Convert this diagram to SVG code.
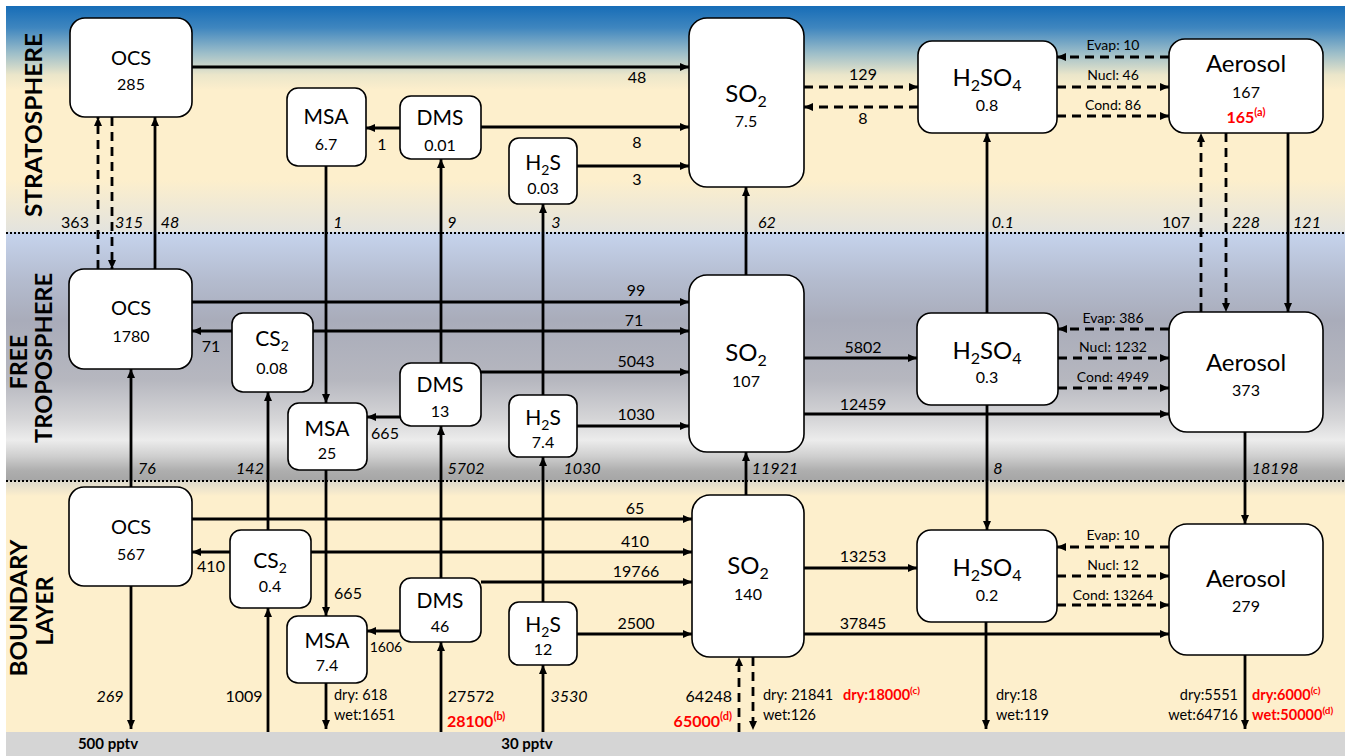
<svg xmlns="http://www.w3.org/2000/svg" width="1349" height="756" viewBox="0 0 1349 756">
<style>
.n{fill:#fff;stroke:#000;stroke-width:1.6}
.c{stroke:#000;stroke-width:2.8;fill:none;marker-end:url(#a)}
.d{stroke-dasharray:9 6}
.dot{stroke:#000;stroke-width:2.2;stroke-dasharray:2 2}
text{font-family:Lato,"Open Sans","Liberation Sans",sans-serif;fill:#000}
.big{font-size:24px;text-anchor:middle}
.mid{font-size:21px;text-anchor:middle}
.ocs{font-size:20px;text-anchor:middle}
.num{font-size:16px;text-anchor:middle}
.lb{font-size:16px;text-anchor:middle}
.it{font-size:16px;text-anchor:middle;font-style:italic}
.sm{font-size:14px;text-anchor:middle}
.dw{font-size:14.5px}
.e{text-anchor:end}
.red{fill:#ff0000;font-weight:bold}
.lay{font-size:23px;font-weight:bold;text-anchor:middle}
.pp{font-size:15px;font-weight:bold;text-anchor:middle}
</style>
<defs>
<marker id="a" viewBox="0 0 9 8" refX="9" refY="4" markerWidth="9" markerHeight="8" markerUnits="userSpaceOnUse" orient="auto">
<path d="M0,0 L9,4 L0,8 z" fill="#000"/>
</marker>
<linearGradient id="bg" x1="0" y1="6" x2="0" y2="732" gradientUnits="userSpaceOnUse">
<stop offset="0" stop-color="#176db7"/>
<stop offset="0.03" stop-color="#3f86bf"/>
<stop offset="0.065" stop-color="#9dbec9"/>
<stop offset="0.095" stop-color="#ebe6ca"/>
<stop offset="0.116" stop-color="#fdefcc"/>
<stop offset="0.24" stop-color="#fdefcc"/>
<stop offset="0.311" stop-color="#e3e3de"/>
<stop offset="0.3115" stop-color="#c6d4ed"/>
<stop offset="0.377" stop-color="#b4bccf"/>
<stop offset="0.433" stop-color="#a9acba"/>
<stop offset="0.515" stop-color="#b6b7bf"/>
<stop offset="0.57" stop-color="#d6d6d8"/>
<stop offset="0.598" stop-color="#ececec"/>
<stop offset="0.62" stop-color="#cfcfcf"/>
<stop offset="0.64" stop-color="#aeaeae"/>
<stop offset="0.653" stop-color="#a6a6a6"/>
<stop offset="0.6545" stop-color="#ddd9cc"/>
<stop offset="0.675" stop-color="#fdefcc"/>
<stop offset="1" stop-color="#fdefcc"/>
</linearGradient>
</defs>
<rect x="0" y="0" width="1349" height="756" fill="#fff"/>
<rect x="6" y="6" width="1339" height="726" fill="url(#bg)"/>
<rect x="6" y="732" width="1339" height="24" fill="#d5d5d5"/>
<line class="dot" x1="6" y1="233" x2="1345" y2="233"/>
<line class="dot" x1="6" y1="481" x2="1345" y2="481"/>

<g id="layer-labels">
<text class="lay" transform="translate(42,125) rotate(-90)" textLength="184" lengthAdjust="spacingAndGlyphs">STRATOSPHERE</text>
<text class="lay" transform="translate(27,362) rotate(-90)">FREE</text>
<text class="lay" transform="translate(52,358) rotate(-90)" textLength="170" lengthAdjust="spacingAndGlyphs">TROPOSPHERE</text>
<text class="lay" transform="translate(27,608) rotate(-90)" textLength="137" lengthAdjust="spacingAndGlyphs">BOUNDARY</text>
<text class="lay" transform="translate(53,611) rotate(-90)">LAYER</text>
</g>

<g id="connectors">
<!-- stratosphere horizontals -->
<line class="c" x1="192" y1="67" x2="689" y2="67"/>
<line class="c" x1="481" y1="127" x2="689" y2="127"/>
<line class="c" x1="577" y1="166" x2="689" y2="166"/>
<line class="c" x1="400" y1="128" x2="366" y2="128"/>
<line class="c d" x1="804" y1="87" x2="918" y2="87"/>
<line class="c d" x1="918" y1="107" x2="804" y2="107"/>
<line class="c d" x1="1169" y1="57" x2="1057" y2="57"/>
<line class="c d" x1="1057" y1="87" x2="1169" y2="87"/>
<line class="c d" x1="1057" y1="116" x2="1169" y2="116"/>
<!-- strat / FT verticals -->
<line class="c d" x1="98" y1="269" x2="98" y2="117"/>
<line class="c d" x1="112" y1="117" x2="112" y2="269"/>
<line class="c" x1="155" y1="269" x2="155" y2="117"/>
<line class="c" x1="326" y1="166" x2="326" y2="403"/>
<line class="c" x1="441" y1="363" x2="441" y2="159"/>
<line class="c" x1="543" y1="395" x2="543" y2="204"/>
<line class="c" x1="746" y1="275" x2="746" y2="187"/>
<line class="c" x1="987" y1="313" x2="987" y2="133"/>
<line class="c d" x1="1201" y1="312" x2="1201" y2="133"/>
<line class="c d" x1="1226" y1="133" x2="1226" y2="312"/>
<line class="c" x1="1288" y1="133" x2="1288" y2="312"/>
<!-- FT horizontals -->
<line class="c" x1="192" y1="302" x2="689" y2="302"/>
<line class="c" x1="313" y1="331" x2="689" y2="331"/>
<line class="c" x1="232" y1="331" x2="192" y2="331"/>
<line class="c" x1="481" y1="372" x2="689" y2="372"/>
<line class="c" x1="577" y1="426" x2="689" y2="426"/>
<line class="c" x1="400" y1="417" x2="367" y2="417"/>
<line class="c" x1="804" y1="358" x2="917" y2="358"/>
<line class="c" x1="804" y1="414" x2="1169" y2="414"/>
<line class="c d" x1="1169" y1="329" x2="1058" y2="329"/>
<line class="c d" x1="1058" y1="358" x2="1169" y2="358"/>
<line class="c d" x1="1058" y1="388" x2="1169" y2="388"/>
<!-- FT / BL verticals -->
<line class="c" x1="131" y1="487" x2="131" y2="369"/>
<line class="c" x1="268" y1="530" x2="268" y2="392"/>
<line class="c" x1="326" y1="470" x2="326" y2="616"/>
<line class="c" x1="441" y1="578" x2="441" y2="426"/>
<line class="c" x1="543" y1="602" x2="543" y2="457"/>
<line class="c" x1="746" y1="495" x2="746" y2="452"/>
<line class="c" x1="987" y1="405" x2="987" y2="530"/>
<line class="c" x1="1245" y1="432" x2="1245" y2="524"/>
<!-- BL horizontals -->
<line class="c" x1="192" y1="519" x2="692" y2="519"/>
<line class="c" x1="311" y1="552" x2="692" y2="552"/>
<line class="c" x1="230" y1="552" x2="192" y2="552"/>
<line class="c" x1="481" y1="582" x2="692" y2="582"/>
<line class="c" x1="577" y1="634" x2="692" y2="634"/>
<line class="c" x1="400" y1="631" x2="367" y2="631"/>
<line class="c" x1="804" y1="568" x2="917" y2="568"/>
<line class="c" x1="804" y1="634" x2="1169" y2="634"/>
<line class="c d" x1="1169" y1="547" x2="1057" y2="547"/>
<line class="c d" x1="1057" y1="576" x2="1169" y2="576"/>
<line class="c d" x1="1057" y1="605" x2="1169" y2="605"/>
<!-- surface fluxes -->
<line class="c" x1="131" y1="586" x2="131" y2="729"/>
<line class="c" x1="268" y1="732" x2="268" y2="608"/>
<line class="c" x1="326" y1="683" x2="326" y2="729"/>
<line class="c" x1="441" y1="732" x2="441" y2="642"/>
<line class="c" x1="543" y1="732" x2="543" y2="665"/>
<line class="c d" x1="739" y1="732" x2="739" y2="657"/>
<line class="c d" x1="753" y1="657" x2="753" y2="730"/>
<line class="c" x1="986" y1="622" x2="986" y2="729"/>
<line class="c" x1="1245" y1="655" x2="1245" y2="729"/>

<!-- labels stratosphere -->
<text class="lb" x="637" y="83">48</text>
<text class="lb" x="637" y="148">8</text>
<text class="lb" x="637" y="185">3</text>
<text class="lb" x="382" y="150">1</text>
<text class="lb" x="863" y="80">129</text>
<text class="lb" x="863" y="124">8</text>
<text class="sm" x="1113" y="50">Evap: 10</text>
<text class="sm" x="1113" y="80">Nucl: 46</text>
<text class="sm" x="1113" y="110">Cond: 86</text>
<!-- strat/FT -->
<text class="lb" x="75" y="228">363</text>
<text class="it" x="129" y="228">315</text>
<text class="it" x="170" y="228">48</text>
<text class="it" x="338" y="228">1</text>
<text class="it" x="452" y="228">9</text>
<text class="it" x="556" y="228">3</text>
<text class="it" x="767" y="228">62</text>
<text class="it" x="1003" y="228">0.1</text>
<text class="lb" x="1176" y="228">107</text>
<text class="it" x="1246" y="228">228</text>
<text class="it" x="1307" y="228">121</text>
<!-- FT -->
<text class="lb" x="636" y="296">99</text>
<text class="lb" x="634" y="326">71</text>
<text class="lb" x="211" y="352">71</text>
<text class="lb" x="636" y="367">5043</text>
<text class="lb" x="636" y="420">1030</text>
<text class="lb" x="385" y="439">665</text>
<text class="lb" x="863" y="353">5802</text>
<text class="lb" x="863" y="410">12459</text>
<text class="sm" x="1113" y="323">Evap: 386</text>
<text class="sm" x="1113" y="352">Nucl: 1232</text>
<text class="sm" x="1113" y="382">Cond: 4949</text>
<!-- FT/BL -->
<text class="it" x="147" y="474">76</text>
<text class="it" x="250" y="474">142</text>
<text class="it" x="466" y="474">5702</text>
<text class="it" x="582" y="474">1030</text>
<text class="it" x="775" y="474">11921</text>
<text class="it" x="998" y="474">8</text>
<text class="it" x="1275" y="474">18198</text>
<!-- BL -->
<text class="lb" x="635" y="514">65</text>
<text class="lb" x="635" y="547">410</text>
<text class="lb" x="211" y="572">410</text>
<text class="lb" x="636" y="577">19766</text>
<text class="lb" x="636" y="629">2500</text>
<text class="sm" x="386" y="652">1606</text>
<text class="lb" x="348" y="599">665</text>
<text class="lb" x="863" y="562">13253</text>
<text class="lb" x="863" y="629">37845</text>
<text class="sm" x="1113" y="540">Evap: 10</text>
<text class="sm" x="1113" y="570">Nucl: 12</text>
<text class="sm" x="1113" y="600">Cond: 13264</text>
<!-- surface -->
<text class="it" x="110" y="702">269</text>
<text class="lb" x="244" y="702">1009</text>
<text class="dw" x="334" y="700">dry: 618</text>
<text class="dw" x="334" y="720">wet:1651</text>
<text class="lb" x="471" y="702">27572</text>
<text class="red" font-size="16" x="447" y="727">28100<tspan font-size="11" dy="-7">(b)</tspan></text>
<text class="it" x="569" y="702">3530</text>
<text class="lb e" x="732" y="702" style="text-anchor:end">64248</text>
<text class="red" font-size="16" x="732" y="727" style="text-anchor:end">65000<tspan font-size="11" dy="-7">(d)</tspan></text>
<text class="dw" x="763" y="700">dry: 21841</text>
<text class="dw" x="763" y="720">wet:126</text>
<text class="dw red" x="843" y="700">dry:18000<tspan font-size="10" dy="-6">(c)</tspan></text>
<text class="dw" x="996" y="700">dry:18</text>
<text class="dw" x="996" y="720">wet:119</text>
<text class="dw e" x="1238" y="700">dry:5551</text>
<text class="dw e" x="1238" y="720">wet:64716</text>
<text class="dw red" x="1252" y="700">dry:6000<tspan font-size="10" dy="-6">(c)</tspan></text>
<text class="dw red" x="1252" y="720">wet:50000<tspan font-size="10" dy="-6">(d)</tspan></text>
<text class="pp" x="108" y="749">500 pptv</text>
<text class="pp" x="527" y="749">30 pptv</text>
</g>

<!-- Stratosphere nodes -->
<g id="ocs-strat"><rect class="n" x="70" y="18" width="122" height="99" rx="15"/><text class="ocs" x="131" y="65">OCS</text><text class="num" x="131" y="90">285</text></g>
<g id="msa-strat"><rect class="n" x="287" y="88" width="79" height="78" rx="11"/><text class="mid" x="326" y="124">MSA</text><text class="num" x="326" y="150">6.7</text></g>
<g id="dms-strat"><rect class="n" x="400" y="96" width="81" height="63" rx="11"/><text class="mid" x="440" y="125">DMS</text><text class="num" x="440" y="151">0.01</text></g>
<g id="h2s-strat"><rect class="n" x="509" y="138" width="68" height="66" rx="10"/><text class="mid" x="543" y="170">H<tspan font-size="14" dy="5">2</tspan><tspan dy="-5">S</tspan></text><text class="num" x="543" y="194">0.03</text></g>
<g id="so2-strat"><rect class="n" x="689" y="18" width="115" height="169" rx="18"/><text class="big" x="746" y="102">SO<tspan font-size="16" dy="5">2</tspan></text><text class="num" x="746" y="127">7.5</text></g>
<g id="h2so4-strat"><rect class="n" x="918" y="41" width="139" height="92" rx="14"/><text class="big" x="987" y="86">H<tspan font-size="16" dy="5">2</tspan><tspan dy="-5">SO</tspan><tspan font-size="16" dy="5">4</tspan></text><text class="num" x="987" y="111">0.8</text></g>
<g id="aerosol-strat"><rect class="n" x="1169" y="39" width="154" height="94" rx="16"/><text class="big" x="1246" y="72">Aerosol</text><text class="num" x="1246" y="98">167</text><text class="red" font-size="16" x="1246" y="123" style="text-anchor:middle">165<tspan font-size="11" dy="-7">(a)</tspan></text></g>

<!-- Free troposphere nodes -->
<g id="ocs-ft"><rect class="n" x="69" y="269" width="123" height="100" rx="15"/><text class="ocs" x="131" y="315">OCS</text><text class="num" x="131" y="342">1780</text></g>
<g id="cs2-ft"><rect class="n" x="232" y="313" width="81" height="79" rx="11"/><text class="mid" x="272" y="346">CS<tspan font-size="14" dy="5">2</tspan></text><text class="num" x="272" y="374">0.08</text></g>
<g id="msa-ft"><rect class="n" x="288" y="403" width="79" height="67" rx="11"/><text class="mid" x="327" y="436">MSA</text><text class="num" x="327" y="459">25</text></g>
<g id="dms-ft"><rect class="n" x="400" y="363" width="81" height="63" rx="11"/><text class="mid" x="440" y="392">DMS</text><text class="num" x="440" y="417">13</text></g>
<g id="h2s-ft"><rect class="n" x="509" y="395" width="68" height="62" rx="10"/><text class="mid" x="543" y="425">H<tspan font-size="14" dy="5">2</tspan><tspan dy="-5">S</tspan></text><text class="num" x="543" y="448">7.4</text></g>
<g id="so2-ft"><rect class="n" x="689" y="275" width="115" height="177" rx="18"/><text class="big" x="746" y="361">SO<tspan font-size="16" dy="5">2</tspan></text><text class="num" x="746" y="387">107</text></g>
<g id="h2so4-ft"><rect class="n" x="917" y="313" width="141" height="92" rx="14"/><text class="big" x="987" y="359">H<tspan font-size="16" dy="5">2</tspan><tspan dy="-5">SO</tspan><tspan font-size="16" dy="5">4</tspan></text><text class="num" x="987" y="383">0.3</text></g>
<g id="aerosol-ft"><rect class="n" x="1169" y="312" width="154" height="120" rx="18"/><text class="big" x="1246" y="371">Aerosol</text><text class="num" x="1246" y="396">373</text></g>

<!-- Boundary layer nodes -->
<g id="ocs-bl"><rect class="n" x="69" y="487" width="123" height="99" rx="15"/><text class="ocs" x="131" y="534">OCS</text><text class="num" x="131" y="560">567</text></g>
<g id="cs2-bl"><rect class="n" x="230" y="530" width="81" height="78" rx="11"/><text class="mid" x="270" y="568">CS<tspan font-size="14" dy="5">2</tspan></text><text class="num" x="270" y="592">0.4</text></g>
<g id="msa-bl"><rect class="n" x="287" y="616" width="80" height="67" rx="11"/><text class="mid" x="327" y="648">MSA</text><text class="num" x="327" y="671">7.4</text></g>
<g id="dms-bl"><rect class="n" x="400" y="578" width="81" height="64" rx="11"/><text class="mid" x="440" y="608">DMS</text><text class="num" x="440" y="632">46</text></g>
<g id="h2s-bl"><rect class="n" x="509" y="602" width="68" height="63" rx="10"/><text class="mid" x="543" y="632">H<tspan font-size="14" dy="5">2</tspan><tspan dy="-5">S</tspan></text><text class="num" x="543" y="655">12</text></g>
<g id="so2-bl"><rect class="n" x="692" y="495" width="112" height="162" rx="18"/><text class="big" x="748" y="574">SO<tspan font-size="16" dy="5">2</tspan></text><text class="num" x="748" y="600">140</text></g>
<g id="h2so4-bl"><rect class="n" x="917" y="530" width="140" height="92" rx="14"/><text class="big" x="987" y="576">H<tspan font-size="16" dy="5">2</tspan><tspan dy="-5">SO</tspan><tspan font-size="16" dy="5">4</tspan></text><text class="num" x="987" y="601">0.2</text></g>
<g id="aerosol-bl"><rect class="n" x="1169" y="524" width="154" height="131" rx="18"/><text class="big" x="1246" y="587">Aerosol</text><text class="num" x="1246" y="612">279</text></g>
</svg>
